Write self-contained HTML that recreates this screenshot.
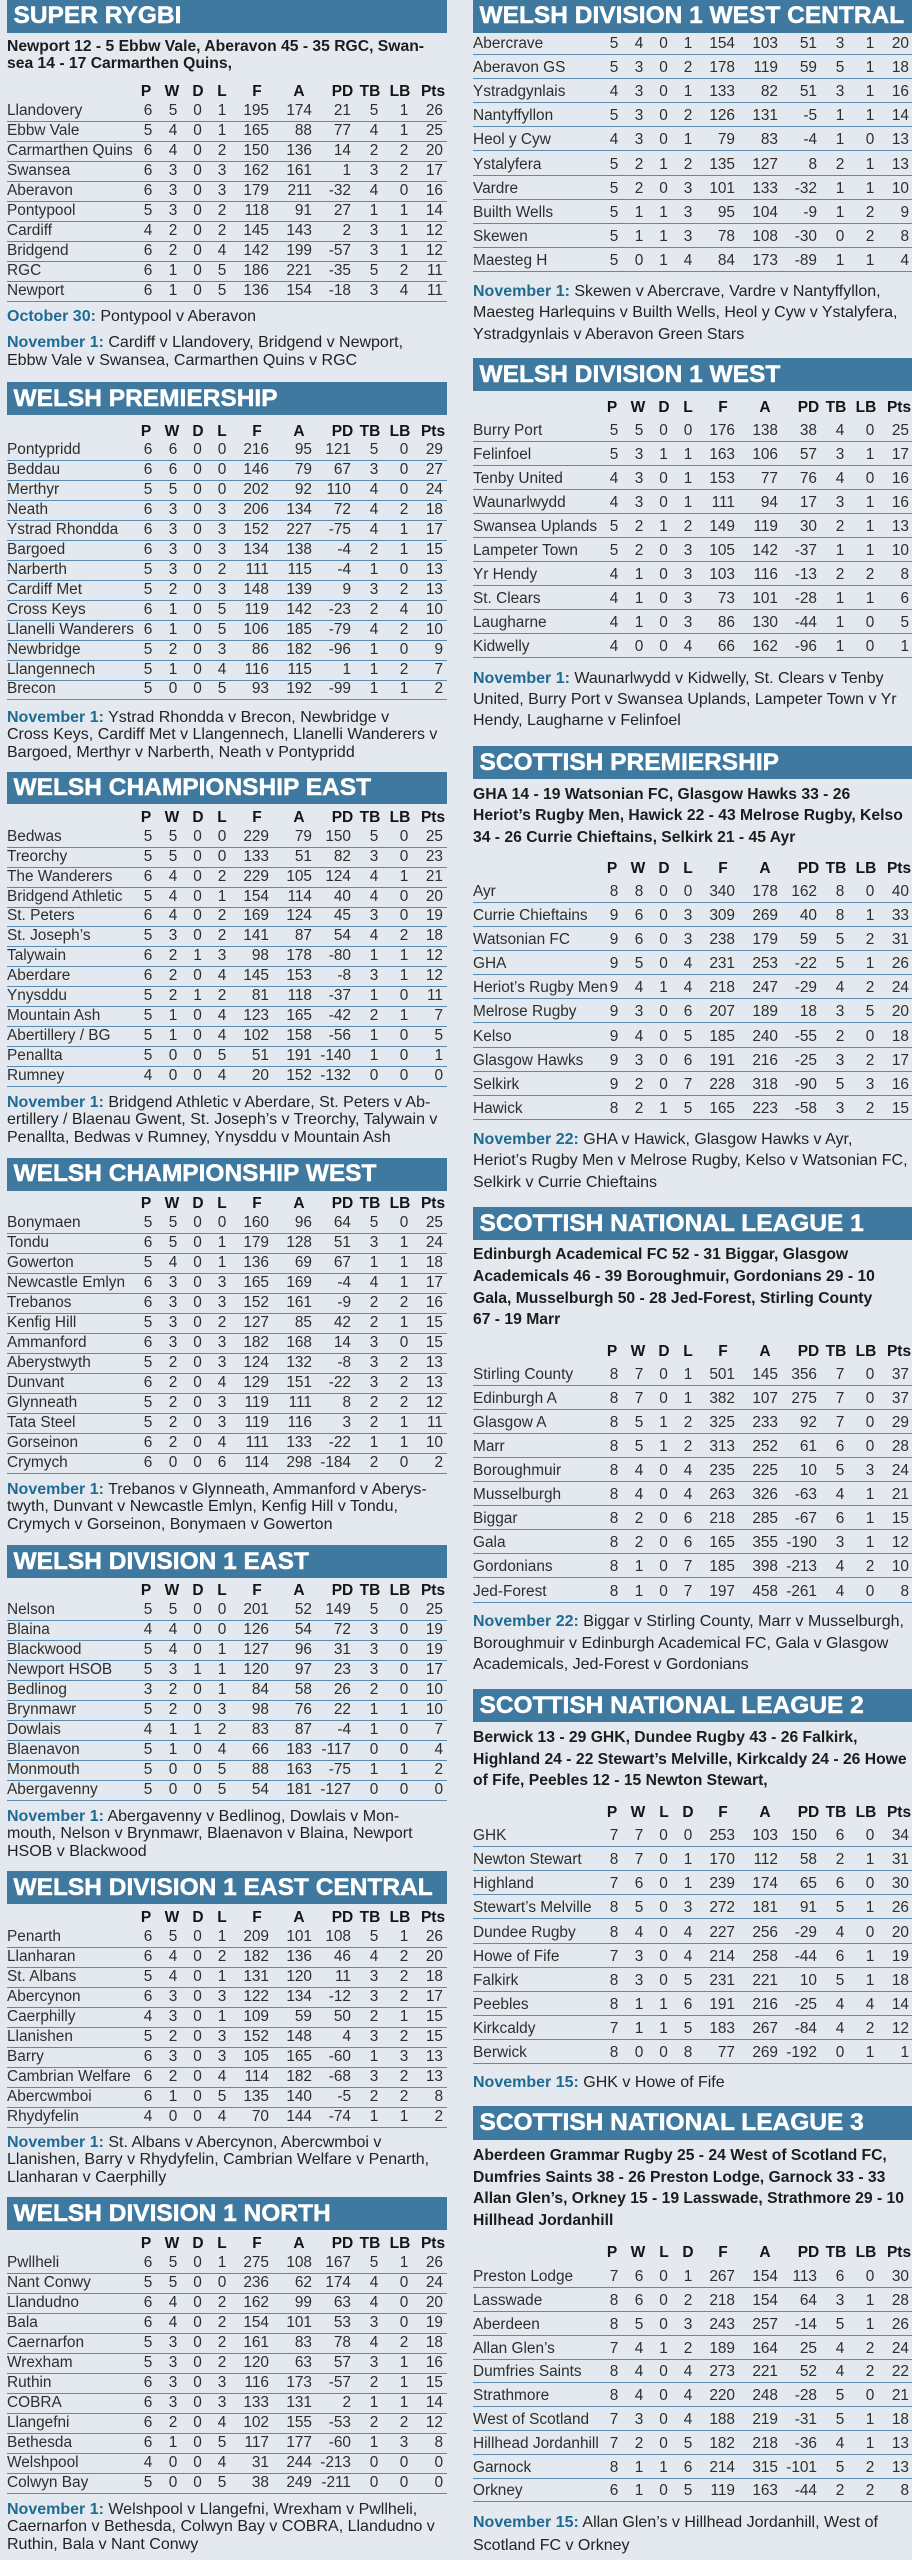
<!DOCTYPE html>
<html><head><meta charset="utf-8">
<style>
html,body{margin:0;padding:0}
body{width:912px;height:2560px;background:#e3e9ef;position:relative;overflow:hidden;font-family:"Liberation Sans",Arial,sans-serif;}
.bar{position:absolute;background:#3f79a0;color:#fff;font-weight:bold;font-size:24.5px;padding-left:6.5px;box-sizing:border-box;white-space:nowrap;-webkit-text-stroke:0.45px #fff;}
.L{left:7px;width:440px}
.R{left:473px;width:439px}
.tbl{position:absolute}
.r{position:relative;box-sizing:border-box;height:var(--h);border-bottom:1px solid #5a8bb2;font-size:15.4px;color:#2e2e2e}
.r i{position:absolute;bottom:0;line-height:20px;font-style:normal;white-space:nowrap}
.r i:nth-of-type(1){left:0}
.r i:nth-of-type(2){left:131px;width:20px;text-align:center}
.r i:nth-of-type(3){left:156px;width:20px;text-align:center}
.r i:nth-of-type(4){left:180.5px;width:20px;text-align:center}
.r i:nth-of-type(5){left:205px;width:20px;text-align:center}
.r i:nth-of-type(6){left:212px;width:50px;text-align:right}
.r i:nth-of-type(7){left:255px;width:50px;text-align:right}
.r i:nth-of-type(8){left:294px;width:50px;text-align:right}
.r i:nth-of-type(9){left:357px;width:20px;text-align:center}
.r i:nth-of-type(10){left:387px;width:20px;text-align:center}
.r i:nth-of-type(11){left:396px;width:40px;text-align:right}
.hd{position:absolute;height:20px;font-weight:bold;font-size:15.5px;color:#141414}
.hd i{position:absolute;top:0;line-height:20px;width:40px;text-align:center;font-style:normal}
.hd i:nth-of-type(1){left:119px}
.hd i:nth-of-type(2){left:145px}
.hd i:nth-of-type(3){left:171px}
.hd i:nth-of-type(4){left:195px}
.hd i:nth-of-type(5){left:230px}
.hd i:nth-of-type(6){left:272px}
.hd i:nth-of-type(7){left:315.5px}
.hd i:nth-of-type(8){left:343px}
.hd i:nth-of-type(9){left:373px}
.hd i:nth-of-type(10){left:406px}
.t{position:absolute;white-space:nowrap;font-size:16px;color:#232323}
.t b{color:#1f6a93}
.tl{line-height:17.4px}
.res{font-weight:bold;font-size:15.7px;color:#1c1c1c}
</style></head><body>

<!-- ================= LEFT COLUMN ================= -->

<div class="bar L" style="top:0;height:32.5px;line-height:32.5px">SUPER RYGBI</div>
<div class="t res tl L" style="top:37.5px;line-height:17.3px">Newport 12 - 5 Ebbw Vale, Aberavon 45 - 35 RGC, Swan-<br>sea 14 - 17 Carmarthen Quins,</div>
<div class="hd L" style="top:82.2px"><i>P</i><i>W</i><i>D</i><i>L</i><i>F</i><i>A</i><i>PD</i><i>TB</i><i>LB</i><i>Pts</i></div>
<div class="tbl L" style="top:102.2px;--h:20px">
<div class="r"><i>Llandovery</i><i>6</i><i>5</i><i>0</i><i>1</i><i>195</i><i>174</i><i>21</i><i>5</i><i>1</i><i>26</i></div>
<div class="r"><i>Ebbw Vale</i><i>5</i><i>4</i><i>0</i><i>1</i><i>165</i><i>88</i><i>77</i><i>4</i><i>1</i><i>25</i></div>
<div class="r"><i>Carmarthen Quins</i><i>6</i><i>4</i><i>0</i><i>2</i><i>150</i><i>136</i><i>14</i><i>2</i><i>2</i><i>20</i></div>
<div class="r"><i>Swansea</i><i>6</i><i>3</i><i>0</i><i>3</i><i>162</i><i>161</i><i>1</i><i>3</i><i>2</i><i>17</i></div>
<div class="r"><i>Aberavon</i><i>6</i><i>3</i><i>0</i><i>3</i><i>179</i><i>211</i><i>-32</i><i>4</i><i>0</i><i>16</i></div>
<div class="r"><i>Pontypool</i><i>5</i><i>3</i><i>0</i><i>2</i><i>118</i><i>91</i><i>27</i><i>1</i><i>1</i><i>14</i></div>
<div class="r"><i>Cardiff</i><i>4</i><i>2</i><i>0</i><i>2</i><i>145</i><i>143</i><i>2</i><i>3</i><i>1</i><i>12</i></div>
<div class="r"><i>Bridgend</i><i>6</i><i>2</i><i>0</i><i>4</i><i>142</i><i>199</i><i>-57</i><i>3</i><i>1</i><i>12</i></div>
<div class="r"><i>RGC</i><i>6</i><i>1</i><i>0</i><i>5</i><i>186</i><i>221</i><i>-35</i><i>5</i><i>2</i><i>11</i></div>
<div class="r"><i>Newport</i><i>6</i><i>1</i><i>0</i><i>5</i><i>136</i><i>154</i><i>-18</i><i>3</i><i>4</i><i>11</i></div>
</div>
<div class="t tl L" style="top:307.5px"><b>October 30:</b> Pontypool v Aberavon</div>
<div class="t tl L" style="top:334.1px"><b>November 1:</b> Cardiff v Llandovery, Bridgend v Newport,<br>Ebbw Vale v Swansea, Carmarthen Quins v RGC</div>

<div class="bar L" style="top:382px;height:33px;line-height:33px">WELSH PREMIERSHIP</div>
<div class="hd L" style="top:421.5px"><i>P</i><i>W</i><i>D</i><i>L</i><i>F</i><i>A</i><i>PD</i><i>TB</i><i>LB</i><i>Pts</i></div>
<div class="tbl L" style="top:441.5px;--h:19.93px">
<div class="r"><i>Pontypridd</i><i>6</i><i>6</i><i>0</i><i>0</i><i>216</i><i>95</i><i>121</i><i>5</i><i>0</i><i>29</i></div>
<div class="r"><i>Beddau</i><i>6</i><i>6</i><i>0</i><i>0</i><i>146</i><i>79</i><i>67</i><i>3</i><i>0</i><i>27</i></div>
<div class="r"><i>Merthyr</i><i>5</i><i>5</i><i>0</i><i>0</i><i>202</i><i>92</i><i>110</i><i>4</i><i>0</i><i>24</i></div>
<div class="r"><i>Neath</i><i>6</i><i>3</i><i>0</i><i>3</i><i>206</i><i>134</i><i>72</i><i>4</i><i>2</i><i>18</i></div>
<div class="r"><i>Ystrad Rhondda</i><i>6</i><i>3</i><i>0</i><i>3</i><i>152</i><i>227</i><i>-75</i><i>4</i><i>1</i><i>17</i></div>
<div class="r"><i>Bargoed</i><i>6</i><i>3</i><i>0</i><i>3</i><i>134</i><i>138</i><i>-4</i><i>2</i><i>1</i><i>15</i></div>
<div class="r"><i>Narberth</i><i>5</i><i>3</i><i>0</i><i>2</i><i>111</i><i>115</i><i>-4</i><i>1</i><i>0</i><i>13</i></div>
<div class="r"><i>Cardiff Met</i><i>5</i><i>2</i><i>0</i><i>3</i><i>148</i><i>139</i><i>9</i><i>3</i><i>2</i><i>13</i></div>
<div class="r"><i>Cross Keys</i><i>6</i><i>1</i><i>0</i><i>5</i><i>119</i><i>142</i><i>-23</i><i>2</i><i>4</i><i>10</i></div>
<div class="r"><i>Llanelli Wanderers</i><i>6</i><i>1</i><i>0</i><i>5</i><i>106</i><i>185</i><i>-79</i><i>4</i><i>2</i><i>10</i></div>
<div class="r"><i>Newbridge</i><i>5</i><i>2</i><i>0</i><i>3</i><i>86</i><i>182</i><i>-96</i><i>1</i><i>0</i><i>9</i></div>
<div class="r"><i>Llangennech</i><i>5</i><i>1</i><i>0</i><i>4</i><i>116</i><i>115</i><i>1</i><i>1</i><i>2</i><i>7</i></div>
<div class="r"><i>Brecon</i><i>5</i><i>0</i><i>0</i><i>5</i><i>93</i><i>192</i><i>-99</i><i>1</i><i>1</i><i>2</i></div>
</div>
<div class="t tl L" style="top:708.8px"><b>November 1:</b> Ystrad Rhondda v Brecon, Newbridge v<br>Cross Keys, Cardiff Met v Llangennech, Llanelli Wanderers v<br>Bargoed, Merthyr v Narberth, Neath v Pontypridd</div>

<div class="bar L" style="top:771.5px;height:32px;line-height:32px">WELSH CHAMPIONSHIP EAST</div>
<div class="hd L" style="top:807.8px"><i>P</i><i>W</i><i>D</i><i>L</i><i>F</i><i>A</i><i>PD</i><i>TB</i><i>LB</i><i>Pts</i></div>
<div class="tbl L" style="top:827.8px;--h:19.95px">
<div class="r"><i>Bedwas</i><i>5</i><i>5</i><i>0</i><i>0</i><i>229</i><i>79</i><i>150</i><i>5</i><i>0</i><i>25</i></div>
<div class="r"><i>Treorchy</i><i>5</i><i>5</i><i>0</i><i>0</i><i>133</i><i>51</i><i>82</i><i>3</i><i>0</i><i>23</i></div>
<div class="r"><i>The Wanderers</i><i>6</i><i>4</i><i>0</i><i>2</i><i>229</i><i>105</i><i>124</i><i>4</i><i>1</i><i>21</i></div>
<div class="r"><i>Bridgend Athletic</i><i>5</i><i>4</i><i>0</i><i>1</i><i>154</i><i>114</i><i>40</i><i>4</i><i>0</i><i>20</i></div>
<div class="r"><i>St. Peters</i><i>6</i><i>4</i><i>0</i><i>2</i><i>169</i><i>124</i><i>45</i><i>3</i><i>0</i><i>19</i></div>
<div class="r"><i>St. Joseph’s</i><i>5</i><i>3</i><i>0</i><i>2</i><i>141</i><i>87</i><i>54</i><i>4</i><i>2</i><i>18</i></div>
<div class="r"><i>Talywain</i><i>6</i><i>2</i><i>1</i><i>3</i><i>98</i><i>178</i><i>-80</i><i>1</i><i>1</i><i>12</i></div>
<div class="r"><i>Aberdare</i><i>6</i><i>2</i><i>0</i><i>4</i><i>145</i><i>153</i><i>-8</i><i>3</i><i>1</i><i>12</i></div>
<div class="r"><i>Ynysddu</i><i>5</i><i>2</i><i>1</i><i>2</i><i>81</i><i>118</i><i>-37</i><i>1</i><i>0</i><i>11</i></div>
<div class="r"><i>Mountain Ash</i><i>5</i><i>1</i><i>0</i><i>4</i><i>123</i><i>165</i><i>-42</i><i>2</i><i>1</i><i>7</i></div>
<div class="r"><i>Abertillery / BG</i><i>5</i><i>1</i><i>0</i><i>4</i><i>102</i><i>158</i><i>-56</i><i>1</i><i>0</i><i>5</i></div>
<div class="r"><i>Penallta</i><i>5</i><i>0</i><i>0</i><i>5</i><i>51</i><i>191</i><i>-140</i><i>1</i><i>0</i><i>1</i></div>
<div class="r"><i>Rumney</i><i>4</i><i>0</i><i>0</i><i>4</i><i>20</i><i>152</i><i>-132</i><i>0</i><i>0</i><i>0</i></div>
</div>
<div class="t tl L" style="top:1093.8px"><b>November 1:</b> Bridgend Athletic v Aberdare, St. Peters v Ab-<br>ertillery / Blaenau Gwent, St. Joseph’s v Treorchy, Talywain v<br>Penallta, Bedwas v Rumney, Ynysddu v Mountain Ash</div>

<div class="bar L" style="top:1158px;height:32.5px;line-height:32.5px">WELSH CHAMPIONSHIP WEST</div>
<div class="hd L" style="top:1193.5px"><i>P</i><i>W</i><i>D</i><i>L</i><i>F</i><i>A</i><i>PD</i><i>TB</i><i>LB</i><i>Pts</i></div>
<div class="tbl L" style="top:1213.5px;--h:20px">
<div class="r"><i>Bonymaen</i><i>5</i><i>5</i><i>0</i><i>0</i><i>160</i><i>96</i><i>64</i><i>5</i><i>0</i><i>25</i></div>
<div class="r"><i>Tondu</i><i>6</i><i>5</i><i>0</i><i>1</i><i>179</i><i>128</i><i>51</i><i>3</i><i>1</i><i>24</i></div>
<div class="r"><i>Gowerton</i><i>5</i><i>4</i><i>0</i><i>1</i><i>136</i><i>69</i><i>67</i><i>1</i><i>1</i><i>18</i></div>
<div class="r"><i>Newcastle Emlyn</i><i>6</i><i>3</i><i>0</i><i>3</i><i>165</i><i>169</i><i>-4</i><i>4</i><i>1</i><i>17</i></div>
<div class="r"><i>Trebanos</i><i>6</i><i>3</i><i>0</i><i>3</i><i>152</i><i>161</i><i>-9</i><i>2</i><i>2</i><i>16</i></div>
<div class="r"><i>Kenfig Hill</i><i>5</i><i>3</i><i>0</i><i>2</i><i>127</i><i>85</i><i>42</i><i>2</i><i>1</i><i>15</i></div>
<div class="r"><i>Ammanford</i><i>6</i><i>3</i><i>0</i><i>3</i><i>182</i><i>168</i><i>14</i><i>3</i><i>0</i><i>15</i></div>
<div class="r"><i>Aberystwyth</i><i>5</i><i>2</i><i>0</i><i>3</i><i>124</i><i>132</i><i>-8</i><i>3</i><i>2</i><i>13</i></div>
<div class="r"><i>Dunvant</i><i>6</i><i>2</i><i>0</i><i>4</i><i>129</i><i>151</i><i>-22</i><i>3</i><i>2</i><i>13</i></div>
<div class="r"><i>Glynneath</i><i>5</i><i>2</i><i>0</i><i>3</i><i>119</i><i>111</i><i>8</i><i>2</i><i>2</i><i>12</i></div>
<div class="r"><i>Tata Steel</i><i>5</i><i>2</i><i>0</i><i>3</i><i>119</i><i>116</i><i>3</i><i>2</i><i>1</i><i>11</i></div>
<div class="r"><i>Gorseinon</i><i>6</i><i>2</i><i>0</i><i>4</i><i>111</i><i>133</i><i>-22</i><i>1</i><i>1</i><i>10</i></div>
<div class="r"><i>Crymych</i><i>6</i><i>0</i><i>0</i><i>6</i><i>114</i><i>298</i><i>-184</i><i>2</i><i>0</i><i>2</i></div>
</div>
<div class="t tl L" style="top:1480.8px"><b>November 1:</b> Trebanos v Glynneath, Ammanford v Aberys-<br>twyth, Dunvant v Newcastle Emlyn, Kenfig Hill v Tondu,<br>Crymych v Gorseinon, Bonymaen v Gowerton</div>

<div class="bar L" style="top:1545px;height:33px;line-height:33px">WELSH DIVISION 1 EAST</div>
<div class="hd L" style="top:1580.5px"><i>P</i><i>W</i><i>D</i><i>L</i><i>F</i><i>A</i><i>PD</i><i>TB</i><i>LB</i><i>Pts</i></div>
<div class="tbl L" style="top:1600.5px;--h:20px">
<div class="r"><i>Nelson</i><i>5</i><i>5</i><i>0</i><i>0</i><i>201</i><i>52</i><i>149</i><i>5</i><i>0</i><i>25</i></div>
<div class="r"><i>Blaina</i><i>4</i><i>4</i><i>0</i><i>0</i><i>126</i><i>54</i><i>72</i><i>3</i><i>0</i><i>19</i></div>
<div class="r"><i>Blackwood</i><i>5</i><i>4</i><i>0</i><i>1</i><i>127</i><i>96</i><i>31</i><i>3</i><i>0</i><i>19</i></div>
<div class="r"><i>Newport HSOB</i><i>5</i><i>3</i><i>1</i><i>1</i><i>120</i><i>97</i><i>23</i><i>3</i><i>0</i><i>17</i></div>
<div class="r"><i>Bedlinog</i><i>3</i><i>2</i><i>0</i><i>1</i><i>84</i><i>58</i><i>26</i><i>2</i><i>0</i><i>10</i></div>
<div class="r"><i>Brynmawr</i><i>5</i><i>2</i><i>0</i><i>3</i><i>98</i><i>76</i><i>22</i><i>1</i><i>1</i><i>10</i></div>
<div class="r"><i>Dowlais</i><i>4</i><i>1</i><i>1</i><i>2</i><i>83</i><i>87</i><i>-4</i><i>1</i><i>0</i><i>7</i></div>
<div class="r"><i>Blaenavon</i><i>5</i><i>1</i><i>0</i><i>4</i><i>66</i><i>183</i><i>-117</i><i>0</i><i>0</i><i>4</i></div>
<div class="r"><i>Monmouth</i><i>5</i><i>0</i><i>0</i><i>5</i><i>88</i><i>163</i><i>-75</i><i>1</i><i>1</i><i>2</i></div>
<div class="r"><i>Abergavenny</i><i>5</i><i>0</i><i>0</i><i>5</i><i>54</i><i>181</i><i>-127</i><i>0</i><i>0</i><i>0</i></div>
</div>
<div class="t tl L" style="top:1807.8px"><b>November 1:</b> Abergavenny v Bedlinog, Dowlais v Mon-<br>mouth, Nelson v Brynmawr, Blaenavon v Blaina, Newport<br>HSOB v Blackwood</div>

<div class="bar L" style="top:1871px;height:33px;line-height:33px">WELSH DIVISION 1 EAST CENTRAL</div>
<div class="hd L" style="top:1907.5px"><i>P</i><i>W</i><i>D</i><i>L</i><i>F</i><i>A</i><i>PD</i><i>TB</i><i>LB</i><i>Pts</i></div>
<div class="tbl L" style="top:1927.5px;--h:20px">
<div class="r"><i>Penarth</i><i>6</i><i>5</i><i>0</i><i>1</i><i>209</i><i>101</i><i>108</i><i>5</i><i>1</i><i>26</i></div>
<div class="r"><i>Llanharan</i><i>6</i><i>4</i><i>0</i><i>2</i><i>182</i><i>136</i><i>46</i><i>4</i><i>2</i><i>20</i></div>
<div class="r"><i>St. Albans</i><i>5</i><i>4</i><i>0</i><i>1</i><i>131</i><i>120</i><i>11</i><i>3</i><i>2</i><i>18</i></div>
<div class="r"><i>Abercynon</i><i>6</i><i>3</i><i>0</i><i>3</i><i>122</i><i>134</i><i>-12</i><i>3</i><i>2</i><i>17</i></div>
<div class="r"><i>Caerphilly</i><i>4</i><i>3</i><i>0</i><i>1</i><i>109</i><i>59</i><i>50</i><i>2</i><i>1</i><i>15</i></div>
<div class="r"><i>Llanishen</i><i>5</i><i>2</i><i>0</i><i>3</i><i>152</i><i>148</i><i>4</i><i>3</i><i>2</i><i>15</i></div>
<div class="r"><i>Barry</i><i>6</i><i>3</i><i>0</i><i>3</i><i>105</i><i>165</i><i>-60</i><i>1</i><i>3</i><i>13</i></div>
<div class="r"><i>Cambrian Welfare</i><i>6</i><i>2</i><i>0</i><i>4</i><i>114</i><i>182</i><i>-68</i><i>3</i><i>2</i><i>13</i></div>
<div class="r"><i>Abercwmboi</i><i>6</i><i>1</i><i>0</i><i>5</i><i>135</i><i>140</i><i>-5</i><i>2</i><i>2</i><i>8</i></div>
<div class="r"><i>Rhydyfelin</i><i>4</i><i>0</i><i>0</i><i>4</i><i>70</i><i>144</i><i>-74</i><i>1</i><i>1</i><i>2</i></div>
</div>
<div class="t tl L" style="top:2133.8px"><b>November 1:</b> St. Albans v Abercynon, Abercwmboi v<br>Llanishen, Barry v Rhydyfelin, Cambrian Welfare v Penarth,<br>Llanharan v Caerphilly</div>

<div class="bar L" style="top:2197px;height:33px;line-height:33px">WELSH DIVISION 1 NORTH</div>
<div class="hd L" style="top:2233.5px"><i>P</i><i>W</i><i>D</i><i>L</i><i>F</i><i>A</i><i>PD</i><i>TB</i><i>LB</i><i>Pts</i></div>
<div class="tbl L" style="top:2253.5px;--h:20px">
<div class="r"><i>Pwllheli</i><i>6</i><i>5</i><i>0</i><i>1</i><i>275</i><i>108</i><i>167</i><i>5</i><i>1</i><i>26</i></div>
<div class="r"><i>Nant Conwy</i><i>5</i><i>5</i><i>0</i><i>0</i><i>236</i><i>62</i><i>174</i><i>4</i><i>0</i><i>24</i></div>
<div class="r"><i>Llandudno</i><i>6</i><i>4</i><i>0</i><i>2</i><i>162</i><i>99</i><i>63</i><i>4</i><i>0</i><i>20</i></div>
<div class="r"><i>Bala</i><i>6</i><i>4</i><i>0</i><i>2</i><i>154</i><i>101</i><i>53</i><i>3</i><i>0</i><i>19</i></div>
<div class="r"><i>Caernarfon</i><i>5</i><i>3</i><i>0</i><i>2</i><i>161</i><i>83</i><i>78</i><i>4</i><i>2</i><i>18</i></div>
<div class="r"><i>Wrexham</i><i>5</i><i>3</i><i>0</i><i>2</i><i>120</i><i>63</i><i>57</i><i>3</i><i>1</i><i>16</i></div>
<div class="r"><i>Ruthin</i><i>6</i><i>3</i><i>0</i><i>3</i><i>116</i><i>173</i><i>-57</i><i>2</i><i>1</i><i>15</i></div>
<div class="r"><i>COBRA</i><i>6</i><i>3</i><i>0</i><i>3</i><i>133</i><i>131</i><i>2</i><i>1</i><i>1</i><i>14</i></div>
<div class="r"><i>Llangefni</i><i>6</i><i>2</i><i>0</i><i>4</i><i>102</i><i>155</i><i>-53</i><i>2</i><i>2</i><i>12</i></div>
<div class="r"><i>Bethesda</i><i>6</i><i>1</i><i>0</i><i>5</i><i>117</i><i>177</i><i>-60</i><i>1</i><i>3</i><i>8</i></div>
<div class="r"><i>Welshpool</i><i>4</i><i>0</i><i>0</i><i>4</i><i>31</i><i>244</i><i>-213</i><i>0</i><i>0</i><i>0</i></div>
<div class="r"><i>Colwyn Bay</i><i>5</i><i>0</i><i>0</i><i>5</i><i>38</i><i>249</i><i>-211</i><i>0</i><i>0</i><i>0</i></div>
</div>
<div class="t tl L" style="top:2500.8px"><b>November 1:</b> Welshpool v Llangefni, Wrexham v Pwllheli,<br>Caernarfon v Bethesda, Colwyn Bay v COBRA, Llandudno v<br>Ruthin, Bala v Nant Conwy</div>

<!-- ================= RIGHT COLUMN ================= -->

<div class="bar R" style="top:0;height:32.5px;line-height:32.5px">WELSH DIVISION 1 WEST CENTRAL</div>
<div class="tbl R" style="top:30.6px;--h:24.16px">
<div class="r"><i>Abercrave</i><i>5</i><i>4</i><i>0</i><i>1</i><i>154</i><i>103</i><i>51</i><i>3</i><i>1</i><i>20</i></div>
<div class="r"><i>Aberavon GS</i><i>5</i><i>3</i><i>0</i><i>2</i><i>178</i><i>119</i><i>59</i><i>5</i><i>1</i><i>18</i></div>
<div class="r"><i>Ystradgynlais</i><i>4</i><i>3</i><i>0</i><i>1</i><i>133</i><i>82</i><i>51</i><i>3</i><i>1</i><i>16</i></div>
<div class="r"><i>Nantyffyllon</i><i>5</i><i>3</i><i>0</i><i>2</i><i>126</i><i>131</i><i>-5</i><i>1</i><i>1</i><i>14</i></div>
<div class="r"><i>Heol y Cyw</i><i>4</i><i>3</i><i>0</i><i>1</i><i>79</i><i>83</i><i>-4</i><i>1</i><i>0</i><i>13</i></div>
<div class="r"><i>Ystalyfera</i><i>5</i><i>2</i><i>1</i><i>2</i><i>135</i><i>127</i><i>8</i><i>2</i><i>1</i><i>13</i></div>
<div class="r"><i>Vardre</i><i>5</i><i>2</i><i>0</i><i>3</i><i>101</i><i>133</i><i>-32</i><i>1</i><i>1</i><i>10</i></div>
<div class="r"><i>Builth Wells</i><i>5</i><i>1</i><i>1</i><i>3</i><i>95</i><i>104</i><i>-9</i><i>1</i><i>2</i><i>9</i></div>
<div class="r"><i>Skewen</i><i>5</i><i>1</i><i>1</i><i>3</i><i>78</i><i>108</i><i>-30</i><i>0</i><i>2</i><i>8</i></div>
<div class="r"><i>Maesteg H</i><i>5</i><i>0</i><i>1</i><i>4</i><i>84</i><i>173</i><i>-89</i><i>1</i><i>1</i><i>4</i></div>
</div>
<div class="t R" style="top:280.8px;line-height:21.5px"><b>November 1:</b> Skewen v Abercrave, Vardre v Nantyffyllon,<br>Maesteg Harlequins v Builth Wells, Heol y Cyw v Ystalyfera,<br>Ystradgynlais v Aberavon Green Stars</div>

<div class="bar R" style="top:358px;height:33px;line-height:33px">WELSH DIVISION 1 WEST</div>
<div class="hd R" style="top:398.1px"><i>P</i><i>W</i><i>D</i><i>L</i><i>F</i><i>A</i><i>PD</i><i>TB</i><i>LB</i><i>Pts</i></div>
<div class="tbl R" style="top:418.1px;--h:24.04px">
<div class="r"><i>Burry Port</i><i>5</i><i>5</i><i>0</i><i>0</i><i>176</i><i>138</i><i>38</i><i>4</i><i>0</i><i>25</i></div>
<div class="r"><i>Felinfoel</i><i>5</i><i>3</i><i>1</i><i>1</i><i>163</i><i>106</i><i>57</i><i>3</i><i>1</i><i>17</i></div>
<div class="r"><i>Tenby United</i><i>4</i><i>3</i><i>0</i><i>1</i><i>153</i><i>77</i><i>76</i><i>4</i><i>0</i><i>16</i></div>
<div class="r"><i>Waunarlwydd</i><i>4</i><i>3</i><i>0</i><i>1</i><i>111</i><i>94</i><i>17</i><i>3</i><i>1</i><i>16</i></div>
<div class="r"><i>Swansea Uplands</i><i>5</i><i>2</i><i>1</i><i>2</i><i>149</i><i>119</i><i>30</i><i>2</i><i>1</i><i>13</i></div>
<div class="r"><i>Lampeter Town</i><i>5</i><i>2</i><i>0</i><i>3</i><i>105</i><i>142</i><i>-37</i><i>1</i><i>1</i><i>10</i></div>
<div class="r"><i>Yr Hendy</i><i>4</i><i>1</i><i>0</i><i>3</i><i>103</i><i>116</i><i>-13</i><i>2</i><i>2</i><i>8</i></div>
<div class="r"><i>St. Clears</i><i>4</i><i>1</i><i>0</i><i>3</i><i>73</i><i>101</i><i>-28</i><i>1</i><i>1</i><i>6</i></div>
<div class="r"><i>Laugharne</i><i>4</i><i>1</i><i>0</i><i>3</i><i>86</i><i>130</i><i>-44</i><i>1</i><i>0</i><i>5</i></div>
<div class="r"><i>Kidwelly</i><i>4</i><i>0</i><i>0</i><i>4</i><i>66</i><i>162</i><i>-96</i><i>1</i><i>0</i><i>1</i></div>
</div>
<div class="t R" style="top:668px;line-height:21px"><b>November 1:</b> Waunarlwydd v Kidwelly, St. Clears v Tenby<br>United, Burry Port v Swansea Uplands, Lampeter Town v Yr<br>Hendy, Laugharne v Felinfoel</div>

<div class="bar R" style="top:746px;height:33px;line-height:33px">SCOTTISH PREMIERSHIP</div>
<div class="t res R" style="top:783.8px;line-height:21.5px">GHA 14 - 19 Watsonian FC, Glasgow Hawks 33 - 26<br>Heriot’s Rugby Men, Hawick 22 - 43 Melrose Rugby, Kelso<br>34 - 26 Currie Chieftains, Selkirk 21 - 45 Ayr</div>
<div class="hd R" style="top:858.8px"><i>P</i><i>W</i><i>D</i><i>L</i><i>F</i><i>A</i><i>PD</i><i>TB</i><i>LB</i><i>Pts</i></div>
<div class="tbl R" style="top:878.8px;--h:24.11px">
<div class="r"><i>Ayr</i><i>8</i><i>8</i><i>0</i><i>0</i><i>340</i><i>178</i><i>162</i><i>8</i><i>0</i><i>40</i></div>
<div class="r"><i>Currie Chieftains</i><i>9</i><i>6</i><i>0</i><i>3</i><i>309</i><i>269</i><i>40</i><i>8</i><i>1</i><i>33</i></div>
<div class="r"><i>Watsonian FC</i><i>9</i><i>6</i><i>0</i><i>3</i><i>238</i><i>179</i><i>59</i><i>5</i><i>2</i><i>31</i></div>
<div class="r"><i>GHA</i><i>9</i><i>5</i><i>0</i><i>4</i><i>231</i><i>253</i><i>-22</i><i>5</i><i>1</i><i>26</i></div>
<div class="r"><i>Heriot’s Rugby Men</i><i>9</i><i>4</i><i>1</i><i>4</i><i>218</i><i>247</i><i>-29</i><i>4</i><i>2</i><i>24</i></div>
<div class="r"><i>Melrose Rugby</i><i>9</i><i>3</i><i>0</i><i>6</i><i>207</i><i>189</i><i>18</i><i>3</i><i>5</i><i>20</i></div>
<div class="r"><i>Kelso</i><i>9</i><i>4</i><i>0</i><i>5</i><i>185</i><i>240</i><i>-55</i><i>2</i><i>0</i><i>18</i></div>
<div class="r"><i>Glasgow Hawks</i><i>9</i><i>3</i><i>0</i><i>6</i><i>191</i><i>216</i><i>-25</i><i>3</i><i>2</i><i>17</i></div>
<div class="r"><i>Selkirk</i><i>9</i><i>2</i><i>0</i><i>7</i><i>228</i><i>318</i><i>-90</i><i>5</i><i>3</i><i>16</i></div>
<div class="r"><i>Hawick</i><i>8</i><i>2</i><i>1</i><i>5</i><i>165</i><i>223</i><i>-58</i><i>3</i><i>2</i><i>15</i></div>
</div>
<div class="t R" style="top:1128.8px;line-height:21.5px"><b>November 22:</b> GHA v Hawick, Glasgow Hawks v Ayr,<br>Heriot’s Rugby Men v Melrose Rugby, Kelso v Watsonian FC,<br>Selkirk v Currie Chieftains</div>

<div class="bar R" style="top:1206.7px;height:33px;line-height:33px">SCOTTISH NATIONAL LEAGUE 1</div>
<div class="t res R" style="top:1244.4px;line-height:21.6px">Edinburgh Academical FC 52 - 31 Biggar, Glasgow<br>Academicals 46 - 39 Boroughmuir, Gordonians 29 - 10<br>Gala, Musselburgh 50 - 28 Jed-Forest, Stirling County<br>67 - 19 Marr</div>
<div class="hd R" style="top:1341.5px"><i>P</i><i>W</i><i>D</i><i>L</i><i>F</i><i>A</i><i>PD</i><i>TB</i><i>LB</i><i>Pts</i></div>
<div class="tbl R" style="top:1361.5px;--h:24.12px">
<div class="r"><i>Stirling County</i><i>8</i><i>7</i><i>0</i><i>1</i><i>501</i><i>145</i><i>356</i><i>7</i><i>0</i><i>37</i></div>
<div class="r"><i>Edinburgh A</i><i>8</i><i>7</i><i>0</i><i>1</i><i>382</i><i>107</i><i>275</i><i>7</i><i>0</i><i>37</i></div>
<div class="r"><i>Glasgow A</i><i>8</i><i>5</i><i>1</i><i>2</i><i>325</i><i>233</i><i>92</i><i>7</i><i>0</i><i>29</i></div>
<div class="r"><i>Marr</i><i>8</i><i>5</i><i>1</i><i>2</i><i>313</i><i>252</i><i>61</i><i>6</i><i>0</i><i>28</i></div>
<div class="r"><i>Boroughmuir</i><i>8</i><i>4</i><i>0</i><i>4</i><i>235</i><i>225</i><i>10</i><i>5</i><i>3</i><i>24</i></div>
<div class="r"><i>Musselburgh</i><i>8</i><i>4</i><i>0</i><i>4</i><i>263</i><i>326</i><i>-63</i><i>4</i><i>1</i><i>21</i></div>
<div class="r"><i>Biggar</i><i>8</i><i>2</i><i>0</i><i>6</i><i>218</i><i>285</i><i>-67</i><i>6</i><i>1</i><i>15</i></div>
<div class="r"><i>Gala</i><i>8</i><i>2</i><i>0</i><i>6</i><i>165</i><i>355</i><i>-190</i><i>3</i><i>1</i><i>12</i></div>
<div class="r"><i>Gordonians</i><i>8</i><i>1</i><i>0</i><i>7</i><i>185</i><i>398</i><i>-213</i><i>4</i><i>2</i><i>10</i></div>
<div class="r"><i>Jed-Forest</i><i>8</i><i>1</i><i>0</i><i>7</i><i>197</i><i>458</i><i>-261</i><i>4</i><i>0</i><i>8</i></div>
</div>
<div class="t R" style="top:1611.2px;line-height:21.6px"><b>November 22:</b> Biggar v Stirling County, Marr v Musselburgh,<br>Boroughmuir v Edinburgh Academical FC, Gala v Glasgow<br>Academicals, Jed-Forest v Gordonians</div>

<div class="bar R" style="top:1689.4px;height:33px;line-height:33px">SCOTTISH NATIONAL LEAGUE 2</div>
<div class="t res R" style="top:1727.1px;line-height:21.6px">Berwick 13 - 29 GHK, Dundee Rugby 43 - 26 Falkirk,<br>Highland 24 - 22 Stewart’s Melville, Kirkcaldy 24 - 26 Howe<br>of Fife, Peebles 12 - 15 Newton Stewart,</div>
<div class="hd R" style="top:1803px"><i>P</i><i>W</i><i>L</i><i>D</i><i>F</i><i>A</i><i>PD</i><i>TB</i><i>LB</i><i>Pts</i></div>
<div class="tbl R" style="top:1823px;--h:24.11px">
<div class="r"><i>GHK</i><i>7</i><i>7</i><i>0</i><i>0</i><i>253</i><i>103</i><i>150</i><i>6</i><i>0</i><i>34</i></div>
<div class="r"><i>Newton Stewart</i><i>8</i><i>7</i><i>0</i><i>1</i><i>170</i><i>112</i><i>58</i><i>2</i><i>1</i><i>31</i></div>
<div class="r"><i>Highland</i><i>7</i><i>6</i><i>0</i><i>1</i><i>239</i><i>174</i><i>65</i><i>6</i><i>0</i><i>30</i></div>
<div class="r"><i>Stewart’s Melville</i><i>8</i><i>5</i><i>0</i><i>3</i><i>272</i><i>181</i><i>91</i><i>5</i><i>1</i><i>26</i></div>
<div class="r"><i>Dundee Rugby</i><i>8</i><i>4</i><i>0</i><i>4</i><i>227</i><i>256</i><i>-29</i><i>4</i><i>0</i><i>20</i></div>
<div class="r"><i>Howe of Fife</i><i>7</i><i>3</i><i>0</i><i>4</i><i>214</i><i>258</i><i>-44</i><i>6</i><i>1</i><i>19</i></div>
<div class="r"><i>Falkirk</i><i>8</i><i>3</i><i>0</i><i>5</i><i>231</i><i>221</i><i>10</i><i>5</i><i>1</i><i>18</i></div>
<div class="r"><i>Peebles</i><i>8</i><i>1</i><i>1</i><i>6</i><i>191</i><i>216</i><i>-25</i><i>4</i><i>4</i><i>14</i></div>
<div class="r"><i>Kirkcaldy</i><i>7</i><i>1</i><i>1</i><i>5</i><i>183</i><i>267</i><i>-84</i><i>4</i><i>2</i><i>12</i></div>
<div class="r"><i>Berwick</i><i>8</i><i>0</i><i>0</i><i>8</i><i>77</i><i>269</i><i>-192</i><i>0</i><i>1</i><i>1</i></div>
</div>
<div class="t R" style="top:2071.9px;line-height:21.6px"><b>November 15:</b> GHK v Howe of Fife</div>

<div class="bar R" style="top:2106.4px;height:34px;line-height:34px">SCOTTISH NATIONAL LEAGUE 3</div>
<div class="t res R" style="top:2145px;line-height:21.7px">Aberdeen Grammar Rugby 25 - 24 West of Scotland FC,<br>Dumfries Saints 38 - 26 Preston Lodge, Garnock 33 - 33<br>Allan Glen’s, Orkney 15 - 19 Lasswade, Strathmore 29 - 10<br>Hillhead Jordanhill</div>
<div class="hd R" style="top:2243px"><i>P</i><i>W</i><i>L</i><i>D</i><i>F</i><i>A</i><i>PD</i><i>TB</i><i>LB</i><i>Pts</i></div>
<div class="tbl R" style="top:2264.2px;--h:23.83px">
<div class="r"><i>Preston Lodge</i><i>7</i><i>6</i><i>0</i><i>1</i><i>267</i><i>154</i><i>113</i><i>6</i><i>0</i><i>30</i></div>
<div class="r"><i>Lasswade</i><i>8</i><i>6</i><i>0</i><i>2</i><i>218</i><i>154</i><i>64</i><i>3</i><i>1</i><i>28</i></div>
<div class="r"><i>Aberdeen</i><i>8</i><i>5</i><i>0</i><i>3</i><i>243</i><i>257</i><i>-14</i><i>5</i><i>1</i><i>26</i></div>
<div class="r"><i>Allan Glen’s</i><i>7</i><i>4</i><i>1</i><i>2</i><i>189</i><i>164</i><i>25</i><i>4</i><i>2</i><i>24</i></div>
<div class="r"><i>Dumfries Saints</i><i>8</i><i>4</i><i>0</i><i>4</i><i>273</i><i>221</i><i>52</i><i>4</i><i>2</i><i>22</i></div>
<div class="r"><i>Strathmore</i><i>8</i><i>4</i><i>0</i><i>4</i><i>220</i><i>248</i><i>-28</i><i>5</i><i>0</i><i>21</i></div>
<div class="r"><i>West of Scotland</i><i>7</i><i>3</i><i>0</i><i>4</i><i>188</i><i>219</i><i>-31</i><i>5</i><i>1</i><i>18</i></div>
<div class="r"><i>Hillhead Jordanhill</i><i>7</i><i>2</i><i>0</i><i>5</i><i>182</i><i>218</i><i>-36</i><i>4</i><i>1</i><i>13</i></div>
<div class="r"><i>Garnock</i><i>8</i><i>1</i><i>1</i><i>6</i><i>214</i><i>315</i><i>-101</i><i>5</i><i>2</i><i>13</i></div>
<div class="r"><i>Orkney</i><i>6</i><i>1</i><i>0</i><i>5</i><i>119</i><i>163</i><i>-44</i><i>2</i><i>2</i><i>8</i></div>
</div>
<div class="t R" style="top:2511px;line-height:23px"><b>November 15:</b> Allan Glen’s v Hillhead Jordanhill, West of<br>Scotland FC v Orkney</div>

</body></html>
